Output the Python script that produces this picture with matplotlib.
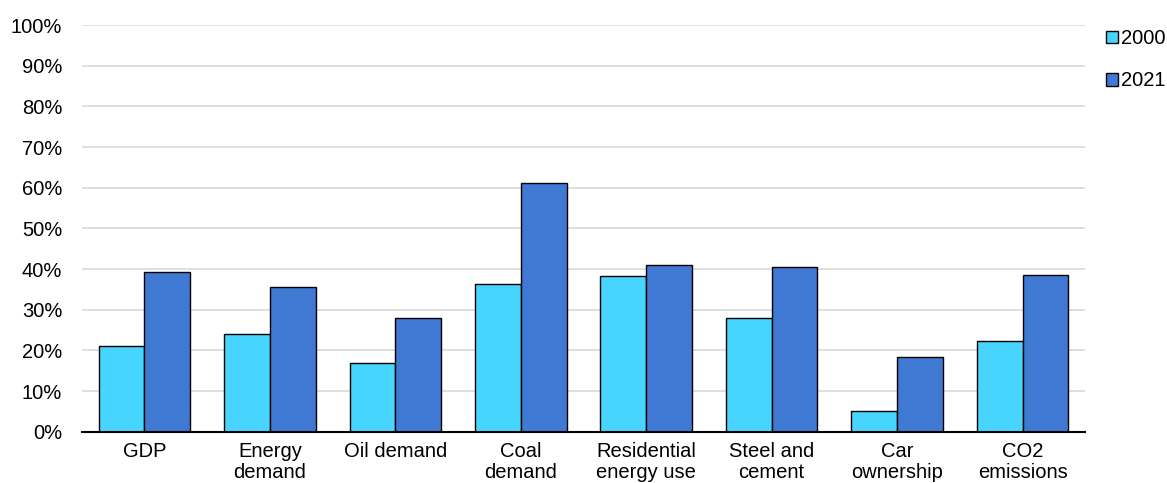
import matplotlib
matplotlib.use("Agg")
import matplotlib.pyplot as plt
import numpy as np

categories = ["GDP", "Energy\ndemand", "Oil demand", "Coal\ndemand",
              "Residential\nenergy use", "Steel and\ncement", "Car\nownership", "CO2\nemissions"]
series_names = ["2000", "2021"]
values_2000 = [21.1, 24.1, 17.0, 36.4, 38.3, 28.0, 5.2, 22.4]
values_2021 = [39.3, 35.6, 28.0, 61.2, 41.0, 40.5, 18.4, 38.6]
yticks = [0, 10, 20, 30, 40, 50, 60, 70, 80, 90, 100]

plt.rcParams['font.family'] = ['Liberation Sans', 'DejaVu Sans']

fig = plt.figure(figsize=(11.67, 4.83), dpi=100)
ax = fig.add_axes([0.070, 0.106, 0.860, 0.842])

x = np.arange(len(categories))
w = 0.365
colors = ["#47D5FF", "#3F79D4"]
ax.bar(x - w / 2, values_2000, w, color=colors[0], edgecolor="black", linewidth=1.0,
       label=series_names[0], zorder=3)
ax.bar(x + w / 2, values_2021, w, color=colors[1], edgecolor="black", linewidth=1.0,
       label=series_names[1], zorder=3)

ax.set_ylim(0, 100)
ax.set_xlim(-0.5, len(categories) - 0.5)
ax.set_yticks(yticks)
ax.set_yticklabels([f"{t}%" for t in yticks], fontsize=14.5)
ax.set_xticks(x)
ax.set_xticklabels(categories, fontsize=14.5, linespacing=1.15)
ax.tick_params(axis="x", length=0, pad=7)
ax.tick_params(axis="y", length=0, pad=14)
ax.yaxis.grid(True, color="#D9D9D9", linewidth=1.2, zorder=0)
ax.set_axisbelow(True)
for s in ["top", "right", "left"]:
    ax.spines[s].set_visible(False)
ax.spines["bottom"].set_linewidth(1.5)
ax.spines["bottom"].set_color("black")
ax.spines["bottom"].set_zorder(4)

leg = ax.legend(loc="upper left", bbox_to_anchor=(1.021, 0.99), frameon=False,
                fontsize=14.5, handlelength=0.6, handleheight=0.6, handletextpad=0.15,
                labelspacing=1.15, borderaxespad=0, borderpad=0)

fig.savefig("out.png", dpi=100)
